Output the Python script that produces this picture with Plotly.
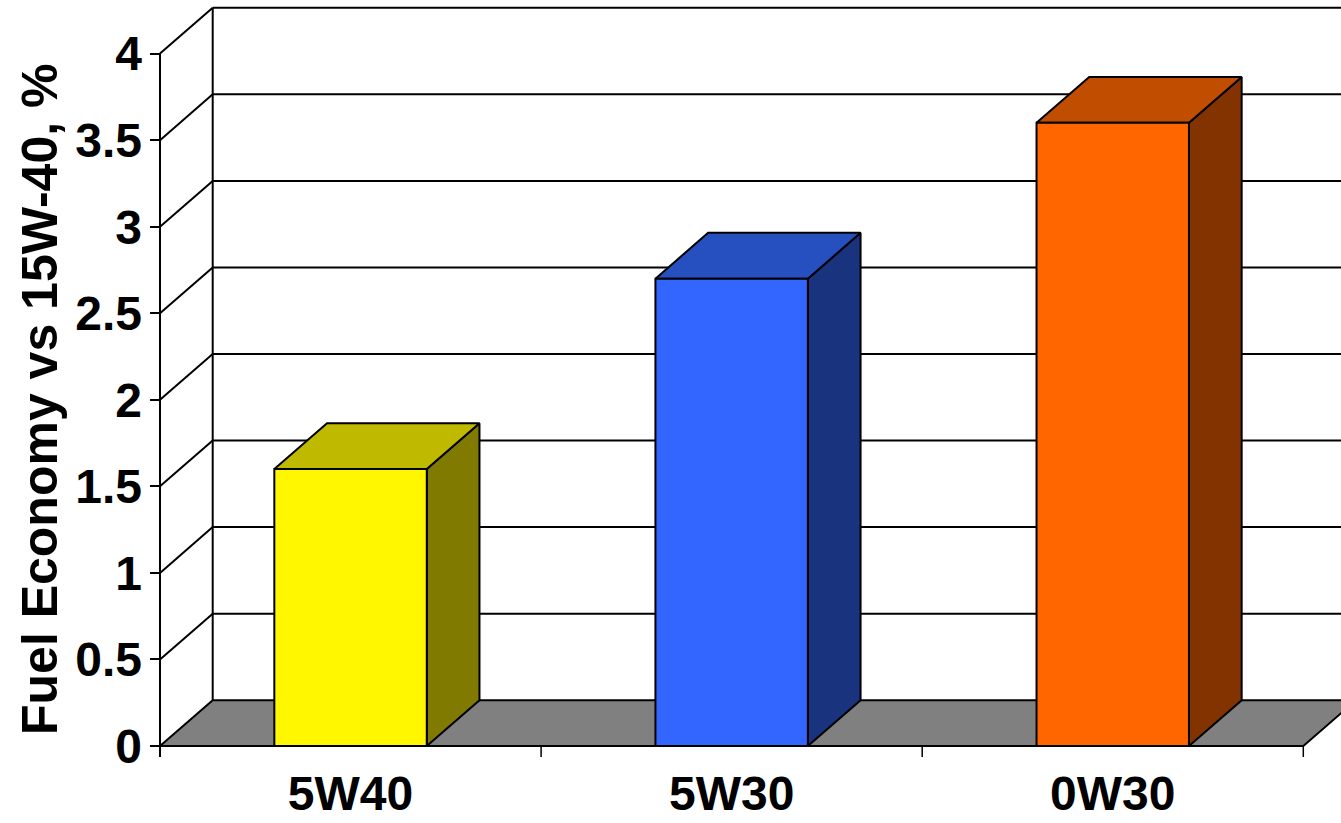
import plotly.graph_objects as go

# ---- data -------------------------------------------------------------
categories = ["5W40", "5W30", "0W30"]
values = [1.6, 2.7, 3.6]
front_colors = ["#FFF700", "#3366FF", "#FF6600"]
top_colors = ["#BFBA00", "#2650C0", "#C04D00"]
side_colors = ["#807B00", "#1A337F", "#823300"]
y_tick_vals = [0, 0.5, 1, 1.5, 2, 2.5, 3, 3.5, 4]
y_tick_text = ["0", "0.5", "1", "1.5", "2", "2.5", "3", "3.5", "4"]
y_title = "Fuel Economy vs 15W-40, %"

# ---- layout geometry --------------------------------------------------
W, H = 1341, 823
M_L, M_B = 150, 65
CAT_PX = 381.1          # pixels per category
UNIT_PX = 173.1         # pixels per value unit
AXIS_PX = 160           # pixel column of the front value axis
BASE_PX = 746           # pixel row of value 0
DEPTH_X = 52.7 / CAT_PX  # oblique depth offset, in category units
DEPTH_Y = 45.8 / UNIT_PX  # oblique depth offset, in value units
BAR_W = 0.4
TICK_DOWN = 11 / UNIT_PX

x_left = -0.5
x_right = len(categories) - 0.5
x_lo = x_left - (AXIS_PX - M_L) / CAT_PX
x_hi = x_lo + (W - M_L) / CAT_PX
y_lo = -((H - M_B) - BASE_PX) / UNIT_PX
y_hi = y_lo + (H - M_B) / UNIT_PX
y_max = max(y_tick_vals)

FONT = "Liberation Sans, Arial, sans-serif"

fig = go.Figure()


def line(xs, ys, width=2):
    fig.add_trace(go.Scatter(x=xs, y=ys, mode="lines",
                             line=dict(color="black", width=width),
                             hoverinfo="skip", showlegend=False))


def poly(xs, ys, fill, width=2):
    fig.add_trace(go.Scatter(x=xs + [xs[0]], y=ys + [ys[0]], mode="lines",
                             fill="toself", fillcolor=fill,
                             line=dict(color="black", width=width),
                             hoverinfo="skip", showlegend=False))


# side-wall diagonals and back-wall gridlines
for v in y_tick_vals[1:]:
    line([x_left, x_left + DEPTH_X], [v, v + DEPTH_Y])
    line([x_left + DEPTH_X, x_right + DEPTH_X + 1], [v + DEPTH_Y, v + DEPTH_Y])

# back-wall left edge
line([x_left + DEPTH_X, x_left + DEPTH_X], [DEPTH_Y, y_max + DEPTH_Y])

# floor
poly([x_left, x_left + DEPTH_X, x_right + DEPTH_X, x_right],
     [0, DEPTH_Y, DEPTH_Y, 0], "#808080")

# front value axis line (runs down into the first category tick)
line([x_left, x_left], [-TICK_DOWN, y_max])

# category boundary ticks
for i in range(1, len(categories) + 1):
    b = x_left + i
    line([b, b], [0, -TICK_DOWN], width=1.5)

# 3-D columns
for i, v in enumerate(values):
    l, r = i - BAR_W / 2, i + BAR_W / 2
    poly([r, r + DEPTH_X, r + DEPTH_X, r], [0, DEPTH_Y, v + DEPTH_Y, v],
         side_colors[i])
    poly([l, l + DEPTH_X, r + DEPTH_X, r], [v, v + DEPTH_Y, v + DEPTH_Y, v],
         top_colors[i])
    poly([l, r, r, l], [0, 0, v, v], front_colors[i])

fig.add_annotation(
    text=y_title, textangle=-90, showarrow=False,
    xref="paper", yref="paper",
    x=(40 - M_L) / (W - M_L), y=((H - M_B) - 400) / (H - M_B),
    xanchor="center", yanchor="middle",
    font=dict(family=FONT, size=50, color="black", weight="bold"),
)

fig.update_layout(
    width=W, height=H,
    margin=dict(l=M_L, r=0, t=0, b=M_B, pad=0, autoexpand=False),
    paper_bgcolor="white", plot_bgcolor="white",
    showlegend=False,
    xaxis=dict(
        range=[x_lo, x_hi], showgrid=False, zeroline=False, showline=False,
        tickmode="array", tickvals=list(range(len(categories))),
        ticktext=categories, ticks="", automargin=False,
        tickfont=dict(family=FONT, size=48, color="black", weight="bold"),
        ticklabelstandoff=3, fixedrange=True,
    ),
    yaxis=dict(
        range=[y_lo, y_hi], showgrid=False, zeroline=False, showline=False,
        tickmode="array", tickvals=y_tick_vals, ticktext=y_tick_text,
        ticks="inside", ticklen=AXIS_PX - M_L, tickwidth=2, tickcolor="black",
        automargin=False,
        tickfont=dict(family=FONT, size=48, color="black", weight="bold"),
        ticklabelstandoff=7, fixedrange=True,
    ),
)

fig.write_html("out.html")
